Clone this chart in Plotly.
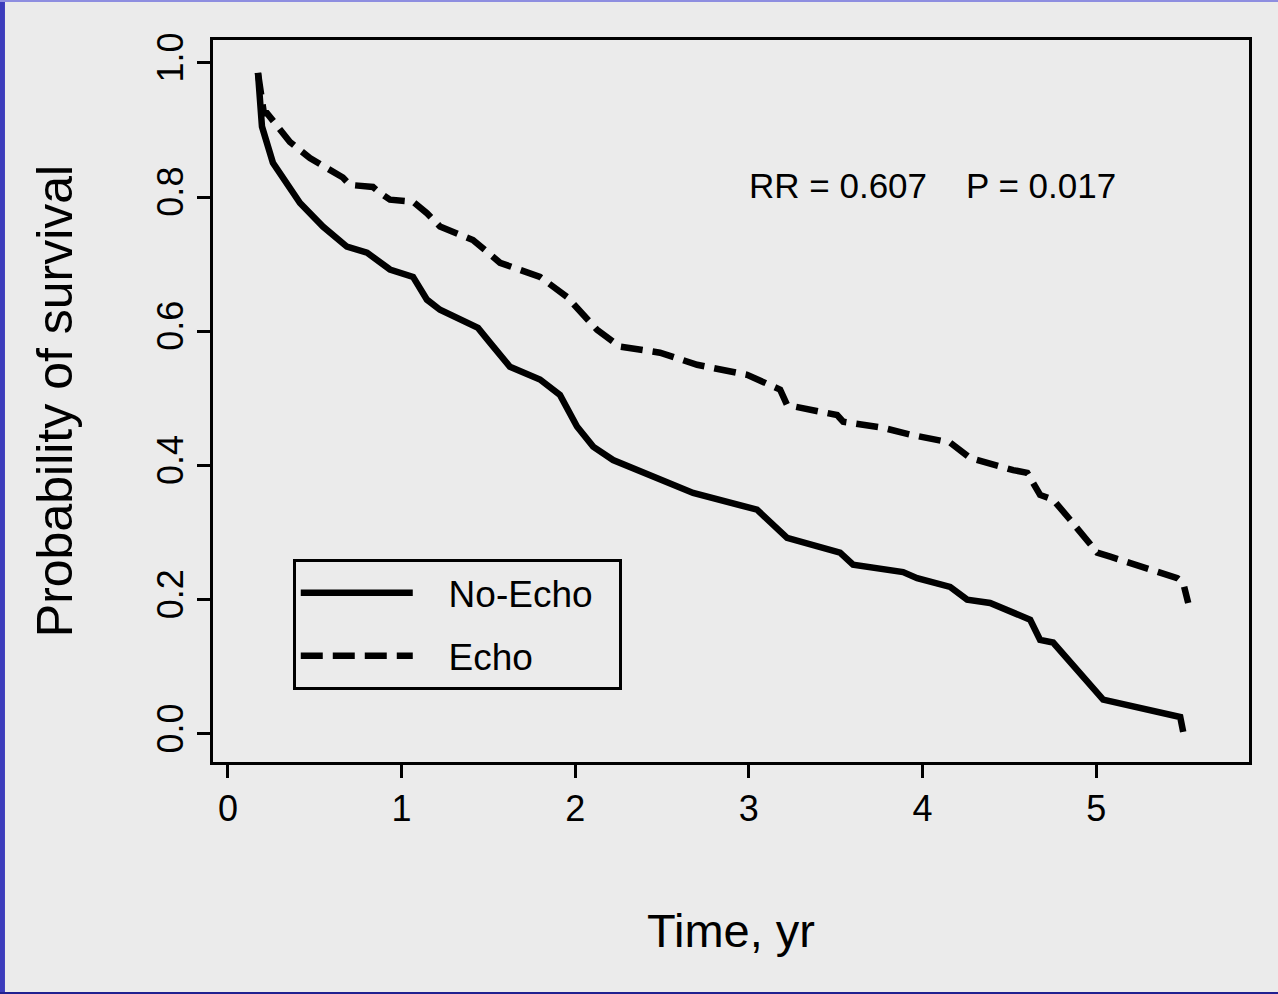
import plotly.graph_objects as go

# ---- data ----
no_echo_time = [0.173, 0.196, 0.259, 0.340, 0.415, 0.547, 0.685, 0.801, 0.933, 1.066,
                1.146, 1.221, 1.440, 1.509, 1.624, 1.797, 1.912, 2.010, 2.103, 2.218,
                2.431, 2.679, 3.047, 3.220, 3.525, 3.600, 3.888, 3.969, 4.159, 4.257,
                4.389, 4.620, 4.677, 4.752, 5.040, 5.484, 5.501]
no_echo_surv = [0.985, 0.905, 0.851, 0.821, 0.791, 0.756, 0.726, 0.717, 0.692, 0.681,
                0.647, 0.632, 0.605, 0.583, 0.547, 0.528, 0.505, 0.458, 0.428, 0.408,
                0.386, 0.359, 0.334, 0.292, 0.270, 0.252, 0.241, 0.232, 0.219, 0.200,
                0.195, 0.170, 0.140, 0.136, 0.051, 0.025, 0.003]

echo_time = [0.173, 0.190, 0.207, 0.225, 0.300, 0.357, 0.472, 0.662, 0.703, 0.835,
             0.876, 0.933, 1.066, 1.146, 1.221, 1.411, 1.567, 1.797, 1.953, 2.126,
             2.258, 2.488, 2.702, 2.990, 3.180, 3.220, 3.508, 3.543, 3.773, 3.929,
             4.159, 4.274, 4.522, 4.603, 4.677, 4.752, 4.850, 5.006, 5.081, 5.467,
             5.501, 5.530]
echo_surv = [0.985, 0.945, 0.925, 0.925, 0.900, 0.882, 0.858, 0.829, 0.818, 0.815,
             0.806, 0.796, 0.793, 0.776, 0.756, 0.736, 0.702, 0.681, 0.651, 0.602,
             0.577, 0.568, 0.550, 0.535, 0.513, 0.490, 0.475, 0.465, 0.456, 0.446,
             0.434, 0.411, 0.393, 0.389, 0.356, 0.349, 0.319, 0.270, 0.264, 0.232,
             0.225, 0.195]

x_ticks = [0, 1, 2, 3, 4, 5]
y_ticks = [0.0, 0.2, 0.4, 0.6, 0.8, 1.0]
y_tick_text = ["0.0", "0.2", "0.4", "0.6", "0.8", "1.0"]
series_names = ["No-Echo", "Echo"]
stats_text = ["RR = 0.607", "P = 0.017"]

FONT = "Liberation Sans, Arial, Helvetica, sans-serif"
BG = "#ebebeb"
NB = "\u00a0"

fig = go.Figure()
fig.add_trace(go.Scatter(x=no_echo_time, y=no_echo_surv, mode="lines",
                         name=NB * 3 + series_names[0] + NB * 2,
                         line=dict(color="black", width=6.5), legendgroup="a"))
fig.add_trace(go.Scatter(x=echo_time, y=echo_surv, mode="lines",
                         name=NB * 3 + series_names[1],
                         line=dict(color="black", width=6.5, dash="22px,10px"), legendgroup="b"))

axis_common = dict(showline=True, mirror=True, linecolor="black", linewidth=3,
                   ticks="outside", ticklen=13, tickwidth=3, tickcolor="black",
                   showgrid=False, zeroline=False,
                   tickfont=dict(family=FONT, size=36, color="black"))

fig.update_xaxes(range=[-0.086, 5.88], tickvals=x_ticks, **axis_common,
                 title=dict(text="Time, yr", font=dict(family=FONT, size=47, color="black"),
                            standoff=86))
fig.update_yaxes(range=[-0.042, 1.034], tickvals=y_ticks, ticktext=y_tick_text, tickangle=-90,
                 **axis_common,
                 title=dict(text="Probability of survival", font=dict(family=FONT, size=50, color="black"),
                            standoff=62))

fig.add_annotation(x=0.603, y=0.799, xref="paper", yref="paper", text=stats_text[0],
                   xanchor="center", yanchor="middle",
                   showarrow=False, font=dict(family=FONT, size=35, color="black"))
fig.add_annotation(x=0.799, y=0.799, xref="paper", yref="paper", text=stats_text[1],
                   xanchor="center", yanchor="middle",
                   showarrow=False, font=dict(family=FONT, size=35, color="black"))

# blue slide frame edges
frame = "#3c3cbc"
fig.add_shape(type="rect", xref="paper", yref="paper", x0=-0.2056, x1=-0.2008, y0=-0.3213, y1=1.0554,
              fillcolor=frame, line_width=0, layer="below")
fig.add_shape(type="rect", xref="paper", yref="paper", x0=-0.2056, x1=1.028, y0=1.0526, y1=1.0554,
              fillcolor="#8e8ee0", line_width=0, layer="below")
fig.add_shape(type="rect", xref="paper", yref="paper", x0=-0.2056, x1=1.028, y0=-0.3213, y1=-0.3185,
              fillcolor="#202090", line_width=0, layer="below")

fig.update_layout(
    width=1278, height=994,
    margin=dict(l=213, r=29, t=40, b=232),
    paper_bgcolor=BG, plot_bgcolor=BG,
    showlegend=True,
    legend=dict(x=0.077, y=0.281, xanchor="left", yanchor="top",
                bgcolor=BG, bordercolor="black", borderwidth=3,
                font=dict(family=FONT, size=37, color="black"),
                traceorder="grouped", tracegroupgap=12, itemwidth=112),
)

fig.write_html("out.html")
